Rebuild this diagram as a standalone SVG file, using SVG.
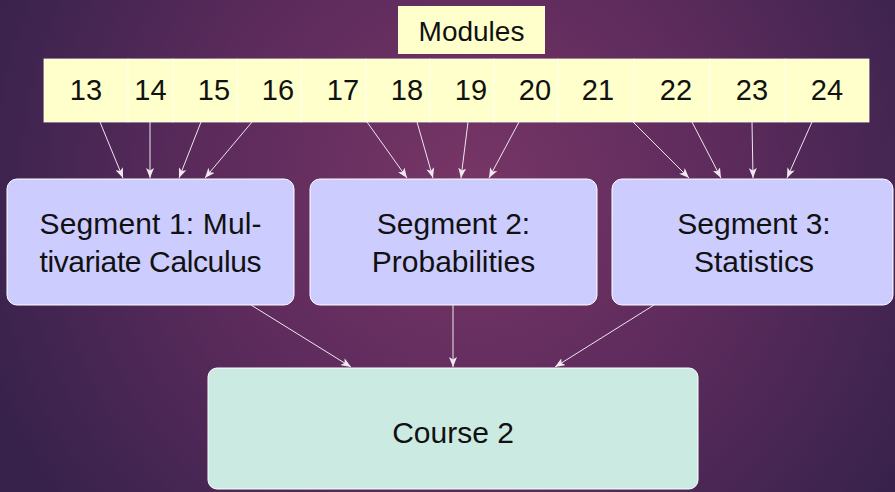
<svg xmlns="http://www.w3.org/2000/svg" width="895" height="492" viewBox="0 0 895 492">
<defs>
<radialGradient id="bg" gradientUnits="userSpaceOnUse" cx="470" cy="190" r="520">
<stop offset="0" stop-color="#773666"/>
<stop offset="0.5" stop-color="#5c2b5c"/>
<stop offset="1" stop-color="#37224c"/>
</radialGradient>
<marker id="ah" viewBox="0 0 10 8" refX="10" refY="4" markerWidth="10" markerHeight="8" markerUnits="userSpaceOnUse" orient="auto">
<path d="M0,0 L10,4 L0,8 L2.5,4 Z" fill="#f0eaf0"/>
</marker>
</defs>
<style>
text{font-family:"Liberation Sans","DejaVu Sans",sans-serif;fill:#111;text-anchor:middle}
.cell{fill:#ffffcc;stroke:#fffff0;stroke-width:0.8}
.seg{fill:#ccccff;stroke:#ffffff;stroke-width:1}
.course{fill:#cbebe2;stroke:#ffffff;stroke-width:1}
.num{font-size:29px}
.lbl{font-size:30px}
#edges line{stroke:#eee6ee;stroke-width:1;marker-end:url(#ah)}
</style>
<rect width="895" height="492" fill="url(#bg)"/>
<g id="modules">
<rect x="398" y="6" width="147" height="48" fill="#ffffcc"/>
<text x="471.5" y="41" font-size="28">Modules</text>
</g>
<g id="m13"><rect class="cell" x="44" y="59" width="84" height="63"/><text class="num" x="86" y="100">13</text></g>
<g id="m14"><rect class="cell" x="128" y="59" width="45" height="63"/><text class="num" x="150.5" y="100">14</text></g>
<g id="m15"><rect class="cell" x="173" y="59" width="64" height="63"/><text class="num" x="214" y="100">15</text></g>
<g id="m16"><rect class="cell" x="237" y="59" width="64" height="63"/><text class="num" x="278" y="100">16</text></g>
<g id="m17"><rect class="cell" x="301" y="59" width="65" height="63"/><text class="num" x="343" y="100">17</text></g>
<g id="m18"><rect class="cell" x="366" y="59" width="64" height="63"/><text class="num" x="407" y="100">18</text></g>
<g id="m19"><rect class="cell" x="430" y="59" width="64" height="63"/><text class="num" x="471" y="100">19</text></g>
<g id="m20"><rect class="cell" x="494" y="59" width="64" height="63"/><text class="num" x="535" y="100">20</text></g>
<g id="m21"><rect class="cell" x="558" y="59" width="76" height="63"/><text class="num" x="598" y="100">21</text></g>
<g id="m22"><rect class="cell" x="634" y="59" width="76" height="63"/><text class="num" x="676" y="100">22</text></g>
<g id="m23"><rect class="cell" x="710" y="59" width="75" height="63"/><text class="num" x="752" y="100">23</text></g>
<g id="m24"><rect class="cell" x="785" y="59" width="84" height="63"/><text class="num" x="827" y="100">24</text></g>
<g id="seg1"><rect class="seg" x="7" y="179" width="287" height="126" rx="10"/><text class="lbl" x="150.5" y="234" textLength="222">Segment 1:  Mul-</text><text class="lbl" x="150.5" y="272" textLength="222">tivariate Calculus</text></g>
<g id="seg2"><rect class="seg" x="310" y="179" width="287" height="126" rx="10"/><text class="lbl" x="453.5" y="234">Segment 2:</text><text class="lbl" x="453.5" y="272">Probabilities</text></g>
<g id="seg3"><rect class="seg" x="612" y="179" width="281" height="126" rx="10"/><text class="lbl" x="754" y="234">Segment 3:</text><text class="lbl" x="754" y="272">Statistics</text></g>
<g id="course2"><rect class="course" x="208" y="368" width="490" height="121" rx="9"/><text class="lbl" x="453" y="443">Course 2</text></g>
<g id="edges">
<line x1="100" y1="122" x2="123" y2="178"/>
<line x1="150" y1="122" x2="150" y2="178"/>
<line x1="201" y1="122" x2="179" y2="178"/>
<line x1="252" y1="122" x2="205" y2="178"/>
<line x1="367" y1="122" x2="407" y2="178"/>
<line x1="417" y1="122" x2="433" y2="178"/>
<line x1="468" y1="122" x2="461" y2="178"/>
<line x1="519" y1="122" x2="489" y2="178"/>
<line x1="633" y1="122" x2="689" y2="178"/>
<line x1="692" y1="122" x2="721" y2="178"/>
<line x1="752" y1="122" x2="753" y2="178"/>
<line x1="812" y1="122" x2="787" y2="178"/>
<line x1="251" y1="305" x2="351" y2="367"/>
<line x1="453" y1="305" x2="453" y2="367"/>
<line x1="654" y1="305" x2="555" y2="367"/>
</g>
</svg>
